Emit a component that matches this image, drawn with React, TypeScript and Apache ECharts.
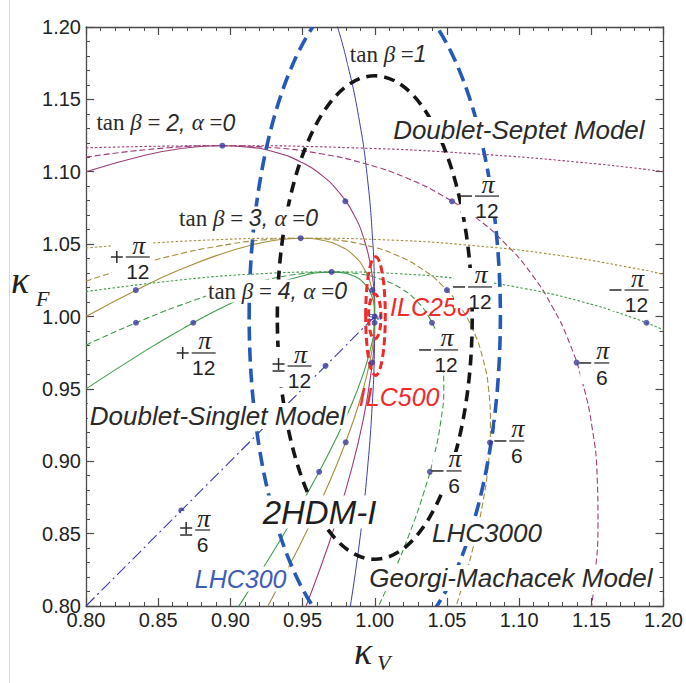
import React, { useEffect, useRef } from 'react';
import * as echarts from 'echarts';

// ---- 2HDM-I curves (solid): [kappa_V, kappa_F]
const thdmTanB1 = [[0.9737,1.2017],[0.9801,1.1787],[0.9888,1.1382],[0.9950,1.0948],[0.9988,1.0487],[0.9997,1.0247],[1.0000,1.0000],[0.9997,0.9747],[0.9988,0.9488],[0.9950,0.8952],[0.9888,0.8393],[0.9801,0.7814]];
const thdmTanB2 = [[0.8000,1.1000],[0.8415,1.1116],[0.8674,1.1162],[0.8912,1.1180],[0.9128,1.1170],[0.9320,1.1132],[0.9490,1.1066],[0.9636,1.0973],[0.9757,1.0852],[0.9855,1.0704],[0.9927,1.0530],[0.9975,1.0329],[0.9998,1.0102],[0.9996,0.9850],[0.9969,0.9573],[0.9917,0.9272],[0.9840,0.8949],[0.9739,0.8603],[0.9613,0.8235],[0.9463,0.7847]];
const thdmTanB3 = [[0.8000,1.0000],[0.8415,1.0216],[0.8674,1.0333],[0.8912,1.0424],[0.9128,1.0489],[0.9320,1.0528],[0.9490,1.0541],[0.9636,1.0527],[0.9757,1.0487],[0.9855,1.0421],[0.9927,1.0329],[0.9975,1.0211],[0.9998,1.0067],[0.9996,0.9898],[0.9969,0.9705],[0.9917,0.9487],[0.9840,0.9246],[0.9739,0.8981],[0.9613,0.8694],[0.9463,0.8385],[0.9290,0.8056],[0.9093,0.7706]];
const thdmTanB4 = [[0.8000,0.9500],[0.8415,0.9766],[0.8674,0.9918],[0.8912,1.0046],[0.9128,1.0149],[0.9320,1.0226],[0.9490,1.0278],[0.9636,1.0304],[0.9757,1.0305],[0.9855,1.0279],[0.9927,1.0228],[0.9975,1.0152],[0.9998,1.0050],[0.9996,0.9923],[0.9969,0.9771],[0.9917,0.9595],[0.9840,0.9394],[0.9739,0.9171],[0.9613,0.8924],[0.9463,0.8655],[0.9290,0.8364],[0.9093,0.8053],[0.8874,0.7721]];

// ---- Georgi-Machacek curves (dashed)
const gmTanB2 = [[0.8000,1.1101],[0.8569,1.1166],[0.8944,1.1180],[0.9297,1.1166],[0.9628,1.1124],[0.9935,1.1055],[1.0217,1.0958],[1.0473,1.0833],[1.0703,1.0681],[1.0906,1.0502],[1.1082,1.0298],[1.1230,1.0067],[1.1351,0.9812],[1.1442,0.9532],[1.1506,0.9228],[1.1540,0.8900],[1.1546,0.8551],[1.1522,0.8181],[1.1495,0.7948]];
const gmTanB3 = [[0.8000,1.0244],[0.8272,1.0331],[0.8608,1.0423],[0.8924,1.0488],[0.9217,1.0528],[0.9487,1.0541],[0.9733,1.0528],[0.9955,1.0488],[1.0152,1.0423],[1.0323,1.0331],[1.0469,1.0213],[1.0589,1.0070],[1.0682,0.9902],[1.0749,0.9709],[1.0789,0.9492],[1.0801,0.9251],[1.0787,0.8986],[1.0746,0.8700],[1.0678,0.8391],[1.0583,0.8062],[1.0537,0.7925]];
const gmTanB4 = [[0.8000,0.9802],[0.8098,0.9848],[0.8420,0.9987],[0.8721,1.0102],[0.9001,1.0192],[0.9258,1.0256],[0.9491,1.0295],[0.9702,1.0308],[0.9887,1.0295],[1.0048,1.0256],[1.0185,1.0192],[1.0295,1.0102],[1.0380,0.9987],[1.0439,0.9848],[1.0471,0.9683],[1.0478,0.9494],[1.0458,0.9282],[1.0413,0.9046],[1.0341,0.8788],[1.0243,0.8507],[1.0120,0.8206],[0.9972,0.7884]];

// ---- Doublet-Septet curves (dotted)
const septetTanB2 = [[0.8000,1.1165],[0.8944,1.1180],[0.9829,1.1166],[1.0687,1.1124],[1.1528,1.1055],[1.2000,1.1000]];
const septetTanB3 = [[0.8000,1.0473],[0.8841,1.0528],[0.9487,1.0541],[1.0108,1.0528],[1.0703,1.0488],[1.1270,1.0423],[1.1811,1.0331],[1.2000,1.0291]];
const septetTanB4 = [[0.8000,1.0172],[0.8687,1.0256],[0.9202,1.0295],[0.9701,1.0308],[1.0173,1.0295],[1.0622,1.0256],[1.1043,1.0192],[1.1435,1.0102],[1.1800,0.9987],[1.2000,0.9907]];

// ---- Doublet-Singlet line (dash-dot)
const singletLine = [[0.8000,0.8000],[0.8660,0.8660],[0.9659,0.9659],[1.0000,1.0000]];

// ---- marked points
const benchmarkPoints = [
  [0.8944,1.1180],[0.9487,1.0541],[0.9701,1.0308],
  [0.9796,1.0796],[0.9982,0.9682],[0.9983,1.0182],[0.9799,0.9131],[0.8345,1.0182],[0.9999,0.9957],[0.9615,0.8927],[0.8743,0.9957],
  [1.0000,1.0000],[0.9659,0.9659],[0.8660,0.8660],
  [1.0535,1.0796],[1.1398,0.9682],[1.0500,1.0182],[1.0798,0.9129],[1.0396,0.9957],[1.0382,0.8927],[0.8346,0.9957],
  [1.1882,0.9957]
];

// ---- precision ellipses: centre (kV, kF) and half-widths
const ellipseNames = ['LHC300', 'LHC3000', 'ILC250', 'ILC500'];
const ellipseCentreV = [1.0, 1.0, 1.0005, 1.0];
const ellipseCentreF = [1.0, 0.9993, 1.0003, 1.0];
const ellipseHalfV = [0.087, 0.0675, 0.0068, 0.0043];
const ellipseHalfF = [0.23, 0.167, 0.041, 0.0155];

// ---- tick labels
const tickFormat = (v: number) => v.toFixed(2);

// ---- annotations
const fractions = [
  { sign: 'plus', den: '12', at: [0.8359, 1.0411] },
  { sign: 'plus', den: '12', at: [0.8815, 0.9748] },
  { sign: 'pm', den: '12', at: [0.9479, 0.9658] },
  { sign: 'pm', den: '6', at: [0.8808, 0.8525] },
  { sign: 'minus', den: '12', at: [1.0777, 1.0832] },
  { sign: 'minus', den: '12', at: [1.0729, 1.0204] },
  { sign: 'minus', den: '12', at: [1.0494, 0.9769] },
  { sign: 'minus', den: '12', at: [1.1813, 1.0183] },
  { sign: 'minus', den: '6', at: [1.1572, 0.9679] },
  { sign: 'minus', den: '6', at: [1.0984, 0.9140] },
  { sign: 'minus', den: '6', at: [1.0549, 0.8933] },
];

const texts = [
  { text: '{rm|tan }{it|β}{rm| =}{sf|1}', at: [1.0093, 1.1813], kind: 'math' },
  { text: '{rm|tan }{it|β}{rm| = }{sf|2, }{it|α}{rm| =}{sf|0}', at: [0.8553, 1.1337], kind: 'math' },
  { text: '{rm|tan }{it|β}{rm| = }{sf|3, }{it|α}{rm| =}{sf|0}', at: [0.9126, 1.0680], kind: 'math' },
  { text: '{rm|tan }{it|β}{rm| = }{sf|4, }{it|α}{rm| =}{sf|0}', at: [0.9326, 1.0176], kind: 'math' },
  { text: 'Doublet-Septet Model', at: [1.0998, 1.1288], kind: 'model' },
  { text: 'Doublet-Singlet Model', at: [0.8912, 0.9313], kind: 'model' },
  { text: 'Georgi-Machacek Model', at: [1.0943, 0.8193], kind: 'model' },
  { text: '2HDM-I', at: [0.9617, 0.8649], kind: 'big' },
  { text: 'LHC300', at: [0.9071, 0.8187], kind: 'blue' },
  { text: 'LHC3000', at: [1.0777, 0.8504], kind: 'model' },
  { text: 'ILC250', at: [1.0385, 1.0063], kind: 'red' },
  { text: 'ILC500', at: [1.0169, 0.9444], kind: 'red' },
  { text: 'SM', at: [1.0, 1.0], kind: 'sm' },
];

const C_PURPLE = '#9b3d78';
const C_OLIVE = '#a48d3c';
const C_GREEN = '#3f9a4c';
const C_BLUE = '#3c3ca8';
const C_DOT = '#3b3b9e';

const ellipseStyles = [
  { color: '#2459b8', width: 3.6, dash: [14, 7] },
  { color: '#151515', width: 3.6, dash: [11, 7] },
  { color: '#ee2b2b', width: 3, dash: [8, 4] },
  { color: '#ee2b2b', width: 3, dash: [7, 4] },
];

const SOLID = 'solid';
const DASHED = [6, 3];
const DOTTED = [2.5, 2];
const DASHDOT = [12, 4, 2, 4];

function curve(data: number[][], color: string, type: any, width = 1.1) {
  return {
    type: 'line', data, showSymbol: false, symbol: 'none', smooth: true, clip: true,
    silent: true, z: 2, lineStyle: { color, width, type },
  };
}

const axisCommon: any = {
  type: 'value', min: 0.8, max: 1.2, interval: 0.05,
  axisLine: { show: true, onZero: false, lineStyle: { color: '#4a4a4a', width: 1.3 } },
  axisTick: { show: true, inside: true, length: 8, lineStyle: { color: '#4a4a4a', width: 1.2 } },
  minorTick: { show: true, splitNumber: 5, length: 4, lineStyle: { color: '#4a4a4a', width: 1 } },
  splitLine: { show: false },
  minorSplitLine: { show: false },
};
const labelStyle = { fontSize: 20, lineHeight: 14, fontFamily: 'Liberation Sans', color: '#222', formatter: tickFormat };

const kindStyle: any = {
  model: { font: 'italic 26px "Liberation Sans"', fill: '#2a2a2a' },
  big: { font: 'italic 33px "Liberation Sans"', fill: '#1e1e1e' },
  blue: { font: 'italic 25px "Liberation Sans"', fill: '#3d5cb8' },
  red: { font: 'italic 25px "Liberation Sans"', fill: '#ee2b2b' },
  sm: { font: '9px "Liberation Sans"', fill: '#3c3ca8' },
};
const mathRich = {
  rm: { font: '23px "Liberation Serif"', fill: '#2a2a2a' },
  it: { font: 'italic 23px "Liberation Serif"', fill: '#2a2a2a' },
  sf: { font: 'italic 23px "Liberation Sans"', fill: '#2a2a2a' },
};

function signShapes(sign: string, right: number, cy: number) {
  const st = { stroke: '#2a2a2a', lineWidth: 1.5 };
  const l = right - 12, mid = right - 6;
  if (sign === 'minus') {
    return [{ type: 'line', z2: 10, shape: { x1: l, y1: cy, x2: right, y2: cy }, style: st }];
  }
  if (sign === 'plus') {
    return [
      { type: 'line', z2: 10, shape: { x1: l, y1: cy, x2: right, y2: cy }, style: st },
      { type: 'line', z2: 10, shape: { x1: mid, y1: cy - 6, x2: mid, y2: cy + 6 }, style: st },
    ];
  }
  return [
    { type: 'line', z2: 10, shape: { x1: l, y1: cy - 2, x2: right, y2: cy - 2 }, style: st },
    { type: 'line', z2: 10, shape: { x1: mid, y1: cy - 8, x2: mid, y2: cy + 4 }, style: st },
    { type: 'line', z2: 10, shape: { x1: l, y1: cy + 5, x2: right, y2: cy + 5 }, style: st },
  ];
}

export default function App() {
  const ref = useRef<HTMLDivElement>(null);
  useEffect(() => {
    const chart = echarts.init(ref.current!, null, { renderer: 'svg' });
    const option: any = {
      animation: false,
      grid: { left: 86, top: 27, width: 579, height: 579, containLabel: false },
      xAxis: [
        { ...axisCommon, position: 'bottom', axisLabel: { ...labelStyle, margin: 7 } },
        { ...axisCommon, position: 'top', axisLabel: { show: false } },
      ],
      yAxis: [
        { ...axisCommon, position: 'left', axisLabel: { ...labelStyle, margin: 5 } },
        { ...axisCommon, position: 'right', axisLabel: { show: false } },
      ],
      series: [
        curve(thdmTanB1, C_BLUE, SOLID, 1),
        curve(thdmTanB2, C_PURPLE, SOLID),
        curve(thdmTanB3, C_OLIVE, SOLID),
        curve(thdmTanB4, C_GREEN, SOLID),
        curve(gmTanB2, C_PURPLE, DASHED),
        curve(gmTanB3, C_OLIVE, DASHED),
        curve(gmTanB4, C_GREEN, DASHED),
        curve(septetTanB2, C_PURPLE, DOTTED),
        curve(septetTanB3, C_OLIVE, DOTTED),
        curve(septetTanB4, C_GREEN, DOTTED),
        { ...curve(singletLine, '#3a3aa8', DASHDOT, 1.1), smooth: false },
        {
          type: 'custom', name: 'ellipses', clip: true, z: 3, silent: true,
          data: ellipseNames.map((_, i) => [ellipseCentreV[i], ellipseCentreF[i], ellipseHalfV[i], ellipseHalfF[i]]),
          encode: { x: 0, y: 1 },
          renderItem: (params: any, api: any) => {
            const st = ellipseStyles[params.dataIndex];
            const c = api.coord([api.value(0), api.value(1)]);
            const s = api.size([api.value(2), api.value(3)]);
            return {
              type: 'ellipse',
              shape: { cx: c[0], cy: c[1], rx: s[0], ry: s[1] },
              style: { fill: 'none', stroke: st.color, lineWidth: st.width, lineDash: st.dash },
            };
          },
        },
        {
          type: 'scatter', data: benchmarkPoints, symbol: 'circle', symbolSize: 6, z: 4, silent: true,
          itemStyle: { color: C_DOT },
        },
        {
          type: 'custom', name: 'fractions', z: 5, silent: true,
          data: fractions.map(f => f.at),
          renderItem: (params: any, api: any) => {
            const f = fractions[params.dataIndex];
            const p = api.coord([api.value(0), api.value(1)]);
            const bw = f.den === '12' ? 24 : 15;
            const cx = p[0], cy = p[1];
            return {
              type: 'group',
              children: [
                { type: 'rect', z2: 1, shape: { x: cx - bw / 2 - 14, y: cy - 19, width: bw + 16, height: 40 }, style: { fill: '#fff' } },
                { type: 'line', z2: 10, shape: { x1: cx - bw / 2, y1: cy, x2: cx + bw / 2, y2: cy }, style: { stroke: '#222', lineWidth: 1.2 } },
                { type: 'text', z2: 10, x: cx + 1, y: cy + 1, style: { text: 'π', font: 'italic 26px "Liberation Serif"', fill: '#222', align: 'center', verticalAlign: 'bottom' } },
                { type: 'text', z2: 10, x: cx, y: cy + 4, style: { text: f.den, font: '21px "Liberation Sans"', fill: '#222', align: 'center', verticalAlign: 'top' } },
                ...signShapes(f.sign, cx - bw / 2 - 3, cy),
              ],
            };
          },
        },
        {
          type: 'custom', name: 'texts', z: 5, silent: true,
          data: texts.map(t => t.at),
          renderItem: (params: any, api: any) => {
            const t = texts[params.dataIndex];
            const p = api.coord([api.value(0), api.value(1)]);
            if (t.kind === 'math') {
              return {
                type: 'text', x: p[0], y: p[1],
                style: { text: t.text, rich: mathRich, align: 'center', verticalAlign: 'middle', backgroundColor: '#fff', padding: [0, 2] },
              };
            }
            const k = kindStyle[t.kind];
            return {
              type: 'text', x: p[0], y: p[1],
              style: {
                text: t.text, font: k.font, fill: k.fill, align: 'center', verticalAlign: 'middle',
                backgroundColor: t.kind === 'sm' || t.kind === 'red' ? 'transparent' : '#fff', padding: [0, 2],
              },
            };
          },
        },
      ],
      graphic: [
        { type: 'line', shape: { x1: 9.5, y1: 0, x2: 9.5, y2: 683 }, style: { stroke: '#d9d9d9', lineWidth: 1 } },
        { type: 'text', left: 11, top: 261, style: { text: 'κ', font: 'italic 38px "Liberation Serif"', fill: '#222' } },
        { type: 'text', left: 36, top: 287, style: { text: 'F', font: 'italic 22px "Liberation Serif"', lineHeight: 19, fill: '#222' } },
        { type: 'text', left: 354, top: 632, style: { text: 'κ', font: 'italic 38px "Liberation Serif"', fill: '#222' } },
        { type: 'text', left: 377, top: 651, style: { text: 'V', font: 'italic 22px "Liberation Serif"', lineHeight: 19, fill: '#222' } },
      ],
    };
    chart.setOption(option);
    return () => chart.dispose();
  }, []);
  return <div ref={ref} style={{ position: 'absolute', left: 0, top: 0, width: 686, height: 683 }} />;
}
